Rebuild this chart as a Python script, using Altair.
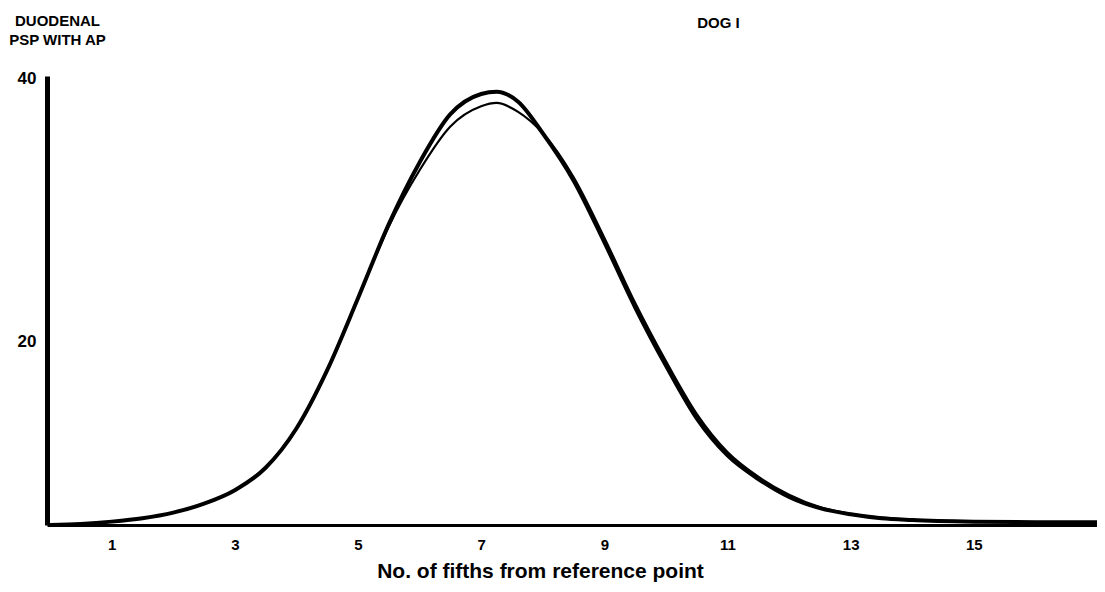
import altair as alt
import pandas as pd

# x positions (No. of fifths from reference point)
x_vals = [0.0, 0.5, 1.0, 1.5, 2.0, 2.5, 3.0, 3.5, 4.0, 4.5, 5.0, 5.5, 6.0, 6.5,
          7.0, 7.25, 7.6, 8.0, 8.5, 9.0, 9.5, 10.0, 10.5, 11.0, 11.5, 12.0,
          12.5, 13.0, 13.5, 14.0, 15.0, 16.0, 17.0]
# heavy curve
heavy_vals = [0.0, 0.1, 0.3, 0.6, 1.1, 1.9, 3.1, 5.1, 8.6, 13.8, 20.2, 26.8, 32.3, 36.6,
              38.4, 38.6, 37.7, 34.9, 30.7, 25.2, 19.4, 14.2, 9.5, 6.2, 4.1, 2.5,
              1.5, 0.95, 0.6, 0.45, 0.3, 0.25, 0.25]
# light curve
light_vals = [0.0, 0.1, 0.3, 0.6, 1.1, 1.9, 3.1, 5.1, 8.6, 13.8, 20.2, 26.6, 31.6, 35.5,
              37.3, 37.6, 36.8, 34.9, 31.0, 25.6, 19.8, 14.6, 9.9, 6.5, 4.3, 2.7,
              1.6, 1.0, 0.65, 0.45, 0.3, 0.25, 0.25]

x_ticks = [1, 3, 5, 7, 9, 11, 13, 15]
y_ticks = [20, 40]

df_heavy = pd.DataFrame({"x": x_vals, "y": heavy_vals})
df_light = pd.DataFrame({"x": x_vals, "y": light_vals})

FONT = "Liberation Sans"

xscale = alt.Scale(domain=[-0.05, 17.0], nice=False, zero=False)
yscale = alt.Scale(domain=[0, 40], nice=False)

xaxis = alt.Axis(
    values=x_ticks, format="d", grid=False, ticks=False, domainColor="black",
    domainWidth=3, labelFont=FONT, labelFontSize=15, labelFontWeight="bold",
    labelColor="black", labelPadding=12,
    title="No. of fifths from reference point", titleFont=FONT, titleFontSize=21,
    titleFontWeight="bold", titleColor="black", titleX=493, titleY=52,
    titleAlign="center", titleBaseline="alphabetic",
)
# top axis used only to carry the "DOG I" caption
xaxis_top = alt.Axis(
    orient="top", labels=False, ticks=False, domain=False, grid=False,
    title="DOG I", titleFont=FONT, titleFontSize=15, titleFontWeight="bold",
    titleColor="black", titleX=671, titleY=-54, titleAlign="center",
    titleBaseline="middle",
)
yaxis = alt.Axis(
    values=y_ticks, grid=False, ticks=False, domainColor="black", domainWidth=5,
    labelFont=FONT, labelFontSize=17, labelFontWeight="bold", labelColor="black",
    labelPadding=11,
    labelOffset=alt.condition("datum.value == 20", alt.value(41), alt.value(2)),
    title=["DUODENAL", "PSP WITH AP"], titleFont=FONT, titleFontSize=15,
    titleFontWeight="bold", titleColor="black", titleAngle=0, titleAlign="center",
    titleBaseline="top", titleX=10, titleY=-63, titleLineHeight=19,
)

heavy = alt.Chart(df_heavy).mark_line(
    color="black", strokeWidth=4, interpolate="monotone"
).encode(
    x=alt.X("x:Q", scale=xscale, axis=xaxis),
    y=alt.Y("y:Q", scale=yscale, axis=yaxis),
)
light = alt.Chart(df_light).mark_line(
    color="black", strokeWidth=2.2, interpolate="monotone"
).encode(
    x=alt.X("x:Q", scale=xscale, axis=xaxis_top),
    y=alt.Y("y:Q", scale=yscale, axis=yaxis),
)

chart = alt.layer(heavy, light).resolve_axis(x="independent").properties(
    width=1050, height=449,
    autosize=alt.AutoSizeParams(type="none"),
    padding={"left": 39, "top": 68, "right": 0, "bottom": 58},
    background="white",
).configure_view(stroke=None)

chart.save("out.html", embed_options={"renderer": "svg", "actions": False})
